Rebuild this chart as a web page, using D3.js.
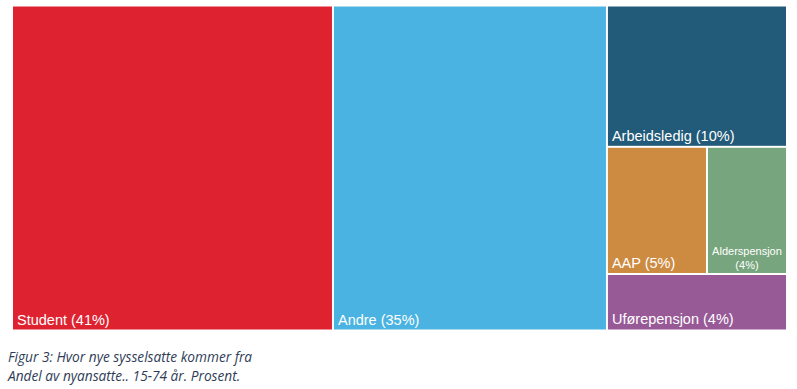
<!DOCTYPE html>
<html>
<head>
<meta charset="utf-8">
<script src="https://cdn.jsdelivr.net/npm/d3@7"></script>
<style>
  body { margin: 0; background: #fff; }
  svg { display: block; }
</style>
</head>
<body>
<svg id="chart"></svg>
<script>
const width = 797;
const height = 389;

// share of new employees, percent
const categories = ["Student", "Andre", "Arbeidsledig", "AAP", "Alderspensjon", "Uførepensjon"];
const values = [41, 35, 10, 5, 4, 4];
const colors = ["#df2230", "#4ab3e1", "#225a79", "#cd8b42", "#77a57d", "#975a97"];

const svg = d3.select("#chart").attr("width", width).attr("height", height);

const root = d3
  .hierarchy({ children: categories.map((c, i) => ({ name: c, value: values[i], color: colors[i] })) })
  .sum((d) => d.value || 0);

// treemap area roughly matches the picture
d3.treemap()
  .tile(d3.treemapSquarify)
  .size([773, 323])
  .paddingInner(2)(root);

const g = svg.append("g").attr("transform", "translate(13,6.5)");

const cell = g
  .selectAll("g.cell")
  .data(root.leaves())
  .join("g")
  .attr("class", "cell")
  .attr("transform", (d) => `translate(${d.x0},${d.y0})`);

cell
  .append("rect")
  .attr("width", (d) => d.x1 - d.x0)
  .attr("height", (d) => d.y1 - d.y0)
  .attr("fill", (d) => d.data.color);

// small tile gets a centred two-line label, the rest bottom left
cell.each(function (d) {
  const w = d.x1 - d.x0;
  const h = d.y1 - d.y0;
  const sel = d3.select(this);
  if (d.data.name === "Alderspensjon") {
    const t = sel
      .append("text")
      .attr("fill", "#fff")
      .attr("font-family", "Liberation Sans, Arial, sans-serif")
      .attr("font-size", 11)
      .attr("text-anchor", "middle");
    t.append("tspan").attr("x", w / 2).attr("y", h - 18).text(d.data.name);
    t.append("tspan").attr("x", w / 2).attr("y", h - 4).text(`(${d.data.value}%)`);
  } else {
    sel
      .append("text")
      .attr("x", 4)
      .attr("y", h - 5)
      .attr("fill", "#fff")
      .attr("font-family", "Liberation Sans, Arial, sans-serif")
      .attr("font-size", 14.5)
      .text(`${d.data.name} (${d.data.value}%)`);
  }
});

// caption
const caption = svg
  .append("text")
  .attr("fill", "#2f3d57")
  .attr("font-family", "Open Sans, sans-serif")
  .attr("font-style", "italic")
  .attr("font-size", 13.7);
caption.append("tspan").attr("x", 8).attr("y", 362).text("Figur 3: Hvor nye sysselsatte kommer fra");
caption.append("tspan").attr("x", 8).attr("y", 381).text("Andel av nyansatte.. 15-74 år. Prosent.");
</script>
</body>
</html>
